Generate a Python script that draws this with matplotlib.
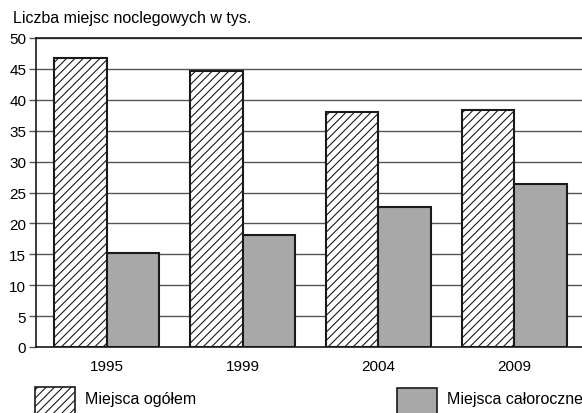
import matplotlib.pyplot as plt
import numpy as np
from matplotlib.patches import Rectangle

plt.rcParams['font.family'] = ['Liberation Sans', 'DejaVu Sans']
plt.rcParams['hatch.linewidth'] = 0.8

years = ['1995', '1999', '2004', '2009']
ogolem = [46.8, 44.7, 38.0, 38.3]
caloroczne = [15.2, 18.1, 22.7, 26.4]
yticks = [0, 5, 10, 15, 20, 25, 30, 35, 40, 45, 50]

fig = plt.figure(figsize=(5.82, 4.14), dpi=100)
ax = fig.add_axes([36 / 582, 1 - 348 / 414, 1 - 36 / 582 + 0.005, 309 / 414])

x = np.arange(len(years))
w = 0.385
ax.bar(x - w / 2, ogolem, w, facecolor='white', edgecolor='#1a1a1a',
       hatch='////', linewidth=1.5, zorder=3)
ax.bar(x + w / 2, caloroczne, w, facecolor='#a8a8a8', edgecolor='#1a1a1a',
       linewidth=1.5, zorder=3)

ax.set_xlim(-0.52, 3.52)
ax.set_ylim(0, 50)
ax.set_yticks(yticks)
ax.set_xticks(x)
ax.set_xticklabels(years, fontsize=11)
ax.tick_params(axis='x', length=0, pad=9)
ax.tick_params(axis='y', length=5, width=1, color='#555555', labelsize=11, pad=2)
ax.yaxis.grid(True, color='#555555', linewidth=1)
ax.set_axisbelow(True)
ax.spines['right'].set_visible(False)
for s in ['top', 'left', 'bottom']:
    ax.spines[s].set_color('#1a1a1a')
    ax.spines[s].set_linewidth(1.2)

fig.text(13 / 582, 1 - 19 / 414, 'Liczba miejsc noclegowych w tys.',
         fontsize=11.5, va='center', ha='left')

# legend drawn by hand at the bottom
fig.patches.append(Rectangle((35 / 582, 1 - 420 / 414), 40 / 582, 32 / 414,
                             transform=fig.transFigure, facecolor='white',
                             edgecolor='#1a1a1a', hatch='////', linewidth=1.2))
fig.text(85 / 582, 1 - 400 / 414, 'Miejsca ogółem', fontsize=11.5, va='center')
fig.patches.append(Rectangle((397 / 582, 1 - 420 / 414), 40 / 582, 31 / 414,
                             transform=fig.transFigure, facecolor='#a8a8a8',
                             edgecolor='#1a1a1a', linewidth=1.2))
fig.text(447 / 582, 1 - 400 / 414, 'Miejsca całoroczne', fontsize=11.5, va='center')

fig.savefig('out.png', dpi=100)
